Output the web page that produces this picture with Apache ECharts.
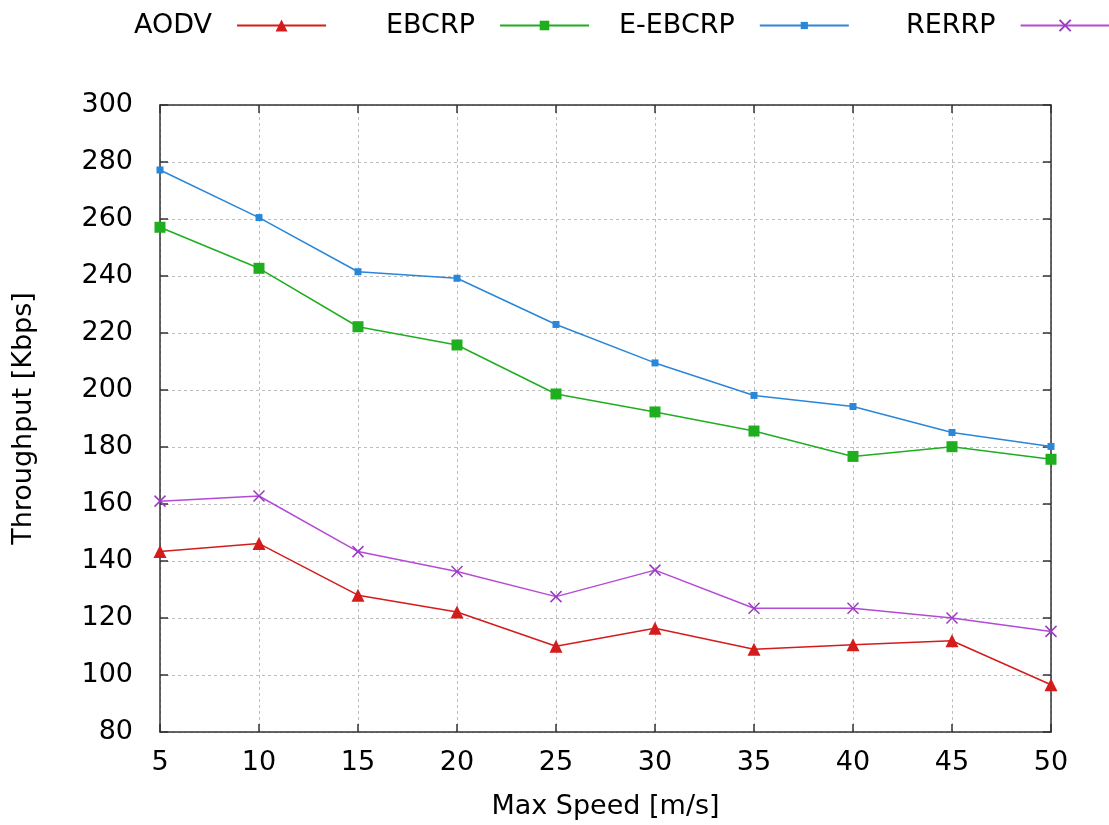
<!DOCTYPE html>
<html>
<head>
<meta charset="utf-8">
<script src="https://cdn.jsdelivr.net/npm/echarts@6/dist/echarts.min.js"></script>
<style>
  html, body { margin: 0; padding: 0; background: #fff; }
  #chart { width: 1109px; height: 825px; }
</style>
</head>
<body>
<div id="chart"></div>
<script>
// Max speed (m/s) on the x axis
const speeds = [5, 10, 15, 20, 25, 30, 35, 40, 45, 50];

// Throughput (Kbps) per routing protocol
const aodv   = [143.3, 146.1, 128.0, 122.1, 110.1, 116.4, 109.0, 110.6, 112.0, 96.6];
const ebcrp  = [257.1, 242.7, 222.2, 215.8, 198.6, 192.3, 185.6, 176.7, 180.1, 175.7];
const eebcrp = [277.2, 260.5, 241.5, 239.2, 223.0, 209.5, 198.1, 194.2, 185.1, 180.2];
const rerrp  = [161.0, 162.8, 143.3, 136.3, 127.5, 136.8, 123.4, 123.4, 120.0, 115.3];

const seriesNames = ['AODV', 'EBCRP', 'E-EBCRP', 'RERRP'];

const FONT = 'DejaVu Sans';
const FS = 27;
const pairs = vals => speeds.map((s, i) => [s, vals[i]]);

const crossPath = 'path://M0,0L10,10M10,0L0,10';

function lineSeries(name, vals, color, symbol, size, extra) {
  return Object.assign({
    name: name,
    type: 'line',
    data: pairs(vals),
    symbol: symbol,
    symbolSize: size,
    showAllSymbol: true,
    lineStyle: { color: color, width: 1.5 },
    itemStyle: { color: color },
    emphasis: { disabled: true },
    animation: false,
    z: 3
  }, extra || {});
}

const legendTextStyle = { fontFamily: FONT, fontSize: FS, color: '#000', padding: [0, 20, 0, 0] };
function legendAt(name, left, markH) {
  return {
    data: [name],
    left: left,
    top: 7,
    align: 'right',
    itemWidth: 89,
    itemHeight: markH,
    selectedMode: false,
    textStyle: legendTextStyle
  };
}

const boxLine = { show: true, lineStyle: { color: '#333', width: 1.5 } };
const tickIn = { show: true, inside: true, length: 8, lineStyle: { color: '#333', width: 1.5 } };
const gridDash = { show: true, lineStyle: { color: '#bdbdbd', type: [3, 3], width: 1 } };

const option = {
  backgroundColor: '#fff',
  animation: false,
  legend: [
    legendAt('AODV', 129, 15),
    legendAt('EBCRP', 381, 12),
    legendAt('E-EBCRP', 614, 9),
    legendAt('RERRP', 901, 14)
  ],
  grid: { left: 160, right: 58, top: 105, bottom: 93 },
  xAxis: [
    {
      type: 'value', min: 5, max: 50, interval: 5,
      name: 'Max Speed [m/s]', nameLocation: 'middle', nameGap: 61,
      nameTextStyle: { fontFamily: FONT, fontSize: FS, color: '#000' },
      axisLine: boxLine, axisTick: tickIn,
      axisLabel: { fontFamily: FONT, fontSize: FS, color: '#000', margin: 17 },
      splitLine: gridDash
    },
    {
      type: 'value', min: 5, max: 50, interval: 5, position: 'top',
      axisLine: boxLine, axisTick: tickIn,
      axisLabel: { show: false }, splitLine: { show: false }
    }
  ],
  yAxis: [
    {
      type: 'value', min: 80, max: 300, interval: 20,
      name: 'Throughput [Kbps]', nameLocation: 'middle', nameGap: 123, nameRotate: 90,
      nameTextStyle: { fontFamily: FONT, fontSize: FS, color: '#000' },
      axisLine: boxLine, axisTick: tickIn,
      axisLabel: { fontFamily: FONT, fontSize: FS, color: '#000', margin: 27 },
      splitLine: gridDash
    },
    {
      type: 'value', min: 80, max: 300, interval: 20, position: 'right',
      axisLine: boxLine, axisTick: tickIn,
      axisLabel: { show: false }, splitLine: { show: false }
    }
  ],
  series: [
    lineSeries(seriesNames[0], aodv, '#d41c1c', 'triangle', 13),
    lineSeries(seriesNames[1], ebcrp, '#1fae1f', 'rect', 11),
    lineSeries(seriesNames[2], eebcrp, '#2a86d8', 'rect', 7),
    lineSeries(seriesNames[3], rerrp, '#b44ad6', crossPath, 11, {
      itemStyle: { color: '#b44ad6', borderColor: '#9a3cc0', borderWidth: 1.5 }
    })
  ]
};

const chart = echarts.init(document.getElementById('chart'), null, { renderer: 'canvas' });
chart.setOption(option);
</script>
</body>
</html>
